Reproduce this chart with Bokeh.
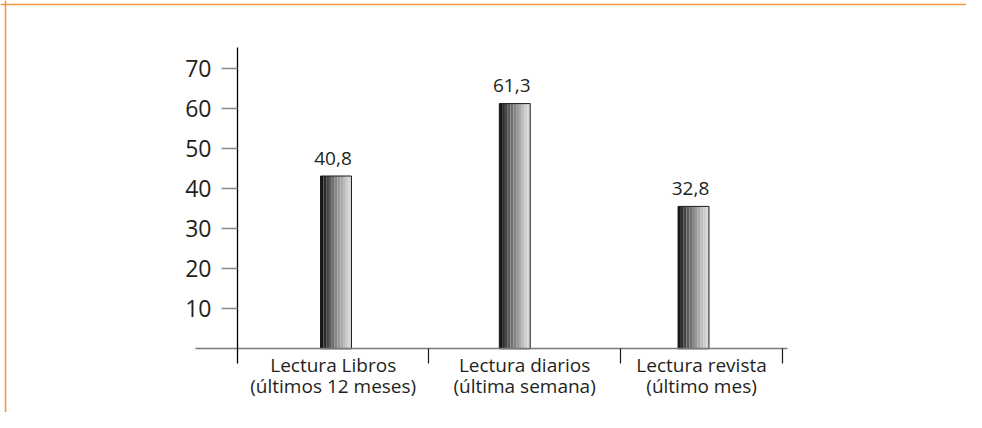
from bokeh.plotting import figure
from bokeh.models import Range1d, LinearAxis, FixedTicker, Span
from bokeh.core.properties import value
from bokeh.embed import file_html
from bokeh.resources import INLINE

# ---- data ----
categories = [
    "Lectura Libros\n(últimos 12 meses)",
    "Lectura diarios\n(última semana)",
    "Lectura revista\n(último mes)",
]
printed_values = [40.8, 61.3, 32.8]      # numbers printed above the bars
bar_heights = [43.2, 61.3, 35.6]         # bar heights as drawn in the picture
y_ticks = [10, 20, 30, 40, 50, 60, 70]

# ---- layout constants ----
bar_x = [1, 2, 3]
bar_w = 0.173
cat_edges = [0.449, 1.52, 2.59, 3.5]     # y axis position + category separators
label_centers = [round((cat_edges[i] + cat_edges[i + 1]) / 2, 4) for i in range(len(categories))]
base_lo, base_hi = 0.214, 3.526          # extent of the baseline
axis_lo, axis_hi = -3.75, 75.25          # extent of the y axis line

W, H = 966, 412
px_x = 178.75                            # pixels per category unit
px_y = 4.0                               # pixels per value unit
x_lo = 1 - 335.5 / px_x
x_hi = x_lo + W / px_x
y_hi = 348.3 / px_y
y_lo = y_hi - H / px_y

FONT = "Open Sans"
TXT = "#231f20"
ORANGE = "#F39A40"

p = figure(
    width=W, height=H,
    x_range=Range1d(x_lo, x_hi), y_range=Range1d(y_lo, y_hi),
    x_axis_type=None, y_axis_type=None,
    output_backend="svg", toolbar_location=None,
    min_border=0,
)
p.outline_line_color = None
p.background_fill_color = "white"
p.border_fill_color = "white"

# orange frame lines (top and left)
p.add_layout(Span(location=y_hi - 4.0 / px_y, dimension="width",
                  line_color=ORANGE, line_width=1.6))
p.add_layout(Span(location=x_lo + 5.0 / px_x, dimension="height",
                  line_color=ORANGE, line_width=1.6))

# ---- bars drawn as vertical gradient stripes ----
shades = ["#161616", "#2e2e2e", "#464646", "#5c5c5c", "#707070",
          "#848484", "#989898", "#aaaaaa", "#bcbcbc", "#cccccc", "#d9d9d9"]
n = len(shades)
lefts, rights, tops, bottoms, colors = [], [], [], [], []
for xc, h in zip(bar_x, bar_heights):
    for k, c in enumerate(shades):
        l = xc - bar_w / 2 + k * bar_w / n
        lefts.append(l)
        rights.append(l + bar_w / n)
        tops.append(h)
        bottoms.append(0)
        colors.append(c)
p.quad(left=lefts, right=rights, top=tops, bottom=bottoms,
       fill_color=colors, line_color=None)
p.quad(left=[x - bar_w / 2 for x in bar_x], right=[x + bar_w / 2 for x in bar_x],
       top=bar_heights, bottom=[0] * len(bar_x),
       fill_color=None, line_color="#1a1a1a", line_width=1)

# ---- value labels ----
p.text(x=bar_x, y=bar_heights,
       text=[f"{v:.1f}".replace(".", ",") for v in printed_values],
       text_align="center", text_baseline="alphabetic", y_offset=-18, x_offset=-3,
       text_font=value(FONT), text_font_size="19px", text_color=TXT)

# ---- y axis ----
yaxis = LinearAxis(
    fixed_location=cat_edges[0], bounds=(axis_lo, axis_hi),
    ticker=FixedTicker(ticks=y_ticks),
    major_tick_in=0, major_tick_out=16, minor_tick_in=0, minor_tick_out=0,
    axis_line_color="black", axis_line_width=1.3,
    major_tick_line_color="#8a8a8a", major_tick_line_width=1.5,
    major_label_text_font=FONT, major_label_text_font_size="23px",
    major_label_text_color=TXT, major_label_standoff=10,
)
p.add_layout(yaxis, "left")

# ---- x axis (baseline, separators, category labels) ----
xaxis = LinearAxis(
    fixed_location=0, bounds=(base_lo, base_hi),
    ticker=FixedTicker(ticks=label_centers, minor_ticks=cat_edges[1:]),
    major_tick_in=0, major_tick_out=0, minor_tick_in=0, minor_tick_out=15,
    minor_tick_line_color="#1a1a1a", minor_tick_line_width=1.2,
    axis_line_color="#7a7a7a", axis_line_width=1.3,
    major_label_overrides={c: t for c, t in zip(label_centers, categories)},
    major_label_text_font=FONT, major_label_text_font_size="19px",
    major_label_text_line_height=0.82,
    major_label_text_color=TXT, major_label_standoff=-12,
)
p.add_layout(xaxis, "below")

open("out.html", "w").write(file_html(p, INLINE))
